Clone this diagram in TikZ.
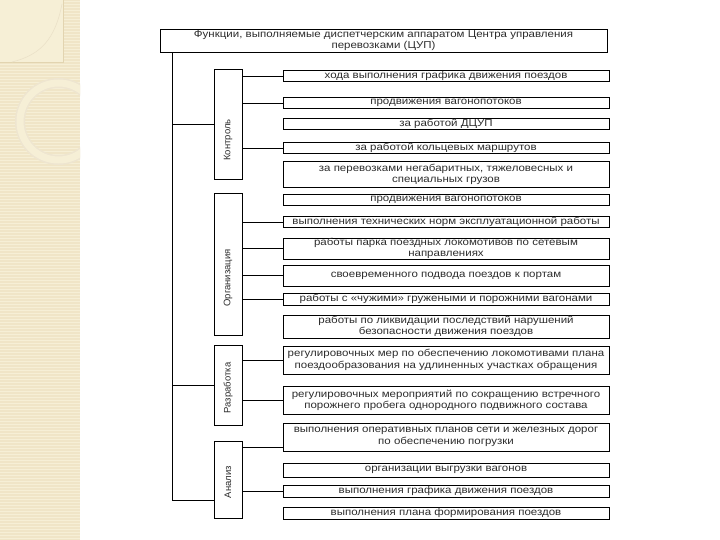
\documentclass[tikz,border=0pt]{standalone}
\usepackage{fontspec}
\setmainfont{Liberation Sans}[FakeStretch=1.15]
\newfontfamily\lblfont{Liberation Sans}
\usetikzlibrary{calc}
\definecolor{beige}{RGB}{240,229,199}
\definecolor{beigelite}{RGB}{246,239,214}
\definecolor{beigedark}{RGB}{226,212,176}
\definecolor{txtgray}{RGB}{45,45,45}
\tikzset{
  itembox/.style={draw, line width=0.8pt, inner sep=0pt, minimum width=326pt, align=center,
    font=\fontsize{10}{11.5}\selectfont, text=txtgray},
  topbox/.style={draw, line width=0.8pt, inner sep=0pt, minimum width=447pt, minimum height=23pt,
    align=center, font=\fontsize{10}{10.5}\selectfont, text=txtgray},
  catbox/.style={draw, line width=0.8pt, minimum width=28pt, inner sep=0pt},
  catlabel/.style={rotate=90, inner sep=0pt, font=\lblfont\fontsize{9.5}{11}\selectfont, text=txtgray},
  conn/.style={line width=0.8pt}
}
\begin{document}
\begin{tikzpicture}[x=1pt,y=-1pt]
\useasboundingbox (0,0) rectangle (720,540);
\fill[white] (0,0) rectangle (720,540);
% decorative strip
\fill[beige] (0,0) rectangle (80,540);
\foreach \yy in {1.5,4.5,...,540} \draw[beigelite, line width=0.7pt] (0,\yy) -- (80,\yy);
\fill[beigelite] (0,0) rectangle (63,62);
\draw[beigedark, line width=0.5pt] (0,62) -- (63,62) -- (63,0);
\draw[beigedark!70, line width=0.6pt] (62,4) .. controls (55,40) and (40,55) .. (12,62);
\begin{scope}
\clip (0,0) rectangle (80,540);
\draw[beigedark!60, line width=10pt] (58.5,121.5) circle[radius=38.5];
\draw[beigelite, line width=7pt] (58.5,121.5) circle[radius=38.5];
\end{scope}

% top box
\node[topbox] (top) at (383.5,40.5) {Функции, выполняемые диспетчерским аппаратом Центра управления\\перевозками (ЦУП)};

% category boxes
\node[catbox, minimum height=110pt] (kon) at (228,124) {};
\node[catbox, minimum height=142pt] (org) at (228,264) {};
\node[catbox, minimum height=80pt] (raz) at (228,385) {};
\node[catbox, minimum height=77pt] (ana) at (228,479.5) {};
\node[catlabel] (konl) at (228,140) {Контроль};
\node[catlabel] (orgl) at (228,278) {Организация};
\node[catlabel] (razl) at (228,388) {Разработка};
\node[catlabel] (anal) at (228,482) {Анализ};

% items
\node[itembox, minimum height=11pt] (k1) at (446,76) {хода выполнения графика движения поездов};
\node[itembox, minimum height=11pt] (k2) at (446,103) {продвижения вагонопотоков};
\node[itembox, minimum height=11pt] (k3) at (446,124) {за работой ДЦУП};
\node[itembox, minimum height=11pt] (k4) at (446,148) {за работой кольцевых маршрутов};
\node[itembox, minimum height=26pt] (k5) at (446,174.5) {за перевозками негабаритных, тяжеловесных и\\специальных грузов};
\node[itembox, minimum height=11pt] (o1) at (446,200) {продвижения вагонопотоков};
\node[itembox, minimum height=11pt] (o2) at (446,222) {выполнения технических норм эксплуатационной работы};
\node[itembox, minimum height=21pt] (o3) at (446,248.5) {работы парка поездных локомотивов по сетевым\\направлениях};
\node[itembox, minimum height=21pt] (o4) at (446,275.5) {своевременного подвода поездов к портам};
\node[itembox, minimum height=12pt] (o5) at (446,299) {работы с «чужими» гружеными и порожними вагонами};
\node[itembox, minimum height=23pt] (o6) at (446,326.5) {работы по ликвидации последствий нарушений\\безопасности движения поездов};
\node[itembox, minimum height=28pt] (r1) at (446,360) {регулировочных мер по обеспечению локомотивами плана\\поездообразования на удлиненных участках обращения};
\node[itembox, minimum height=28pt] (r2) at (446,400.5) {регулировочных мероприятий по сокращению встречного\\порожнего пробега однородного подвижного состава};
\node[itembox, minimum height=28pt] (a1) at (446,437) {выполнения оперативных планов сети и железных дорог\\по обеспечению погрузки};
\node[itembox, minimum height=14pt] (a2) at (446,470) {организации выгрузки вагонов};
\node[itembox, minimum height=12pt] (a3) at (446,491) {выполнения графика движения поездов};
\node[itembox, minimum height=12pt] (a4) at (446,513) {выполнения плана формирования поездов};

% trunk
\coordinate (trunk) at ($(top.south west)+(13,0)$);
\coordinate (anain) at ($(ana.west)+(0,20.5)$);
\draw[conn] (trunk) |- (anain);
\draw[conn] (trunk |- kon.west) -- (kon.west);
\draw[conn] (trunk |- raz.west) -- (raz.west);

% connectors to items
\foreach \it in {k1,k2,k4} \draw[conn] (kon.east |- \it.west) -- (\it.west);
\foreach \it in {o2,o3,o4,o5} \draw[conn] (org.east |- \it.west) -- (\it.west);
\foreach \it in {r1,r2} \draw[conn] (raz.east |- \it.west) -- (\it.west);
\coordinate (a1in) at ($(a1.west)+(0,10)$);
\draw[conn] (ana.east |- a1in) -- (a1in);
\draw[conn] (ana.east |- a3.west) -- (a3.west);
\end{tikzpicture}
\end{document}
